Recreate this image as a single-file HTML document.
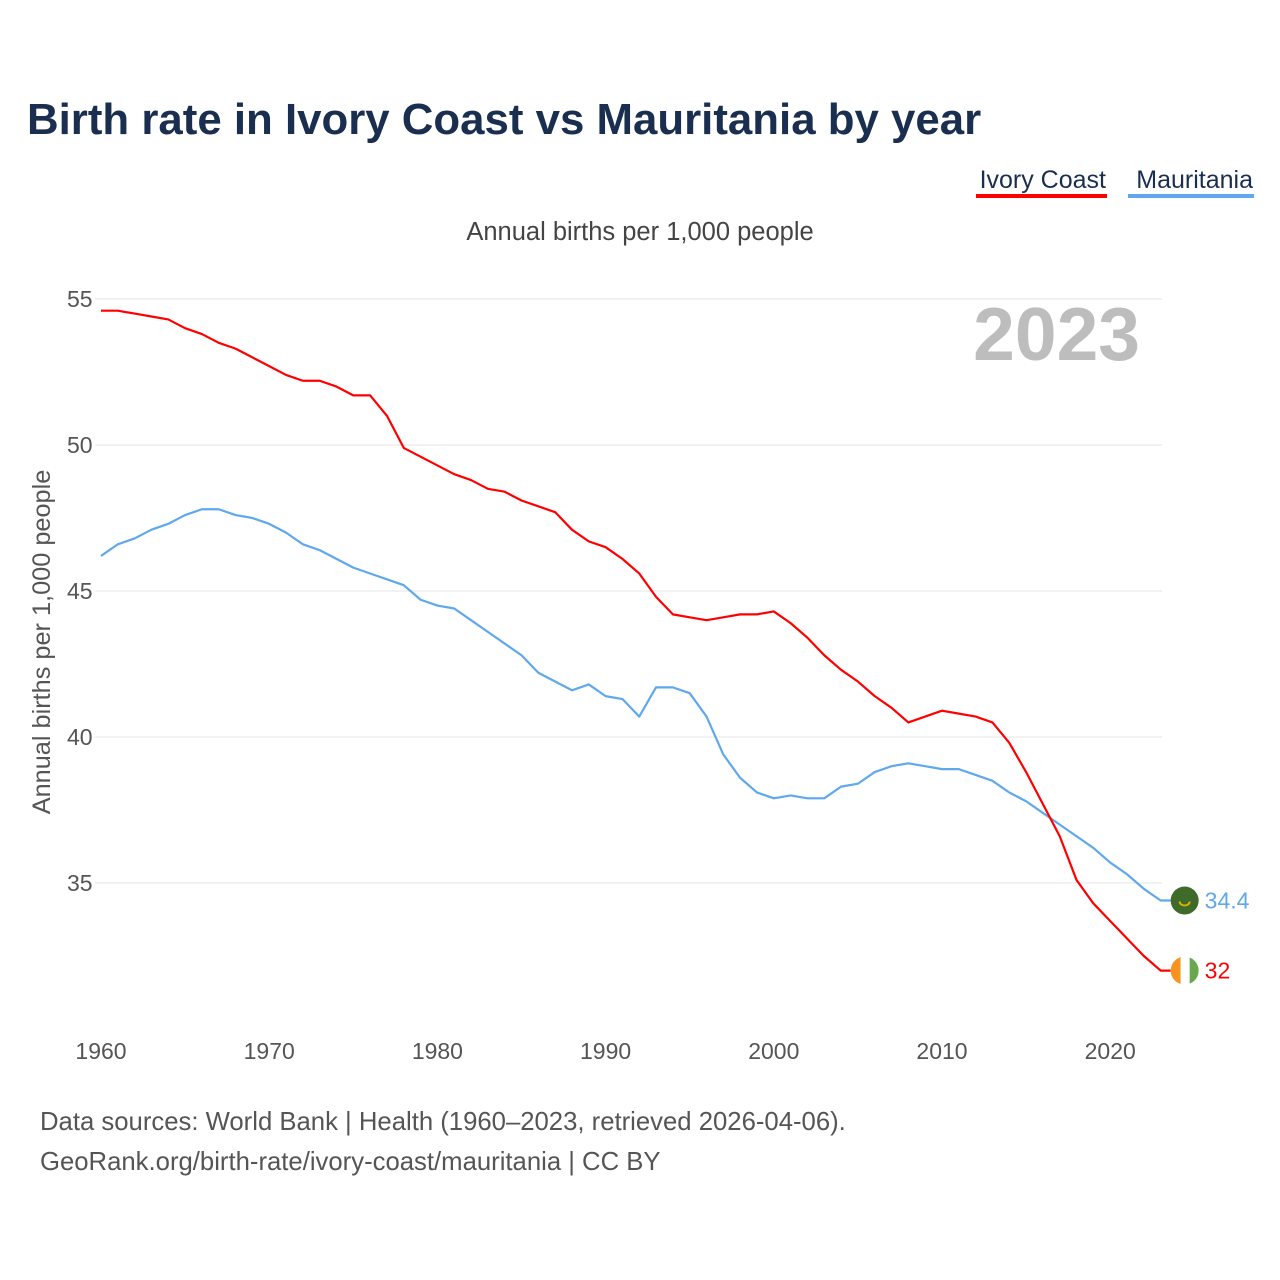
<!DOCTYPE html>
<html><head><meta charset="utf-8"><style>
body{margin:0;background:#fff;font-family:"Liberation Sans",sans-serif;}
#wrap{position:relative;width:1280px;height:1280px;overflow:hidden}
</style></head><body>
<div id="wrap">
<svg id="chart" width="1280" height="1280">
<text x="27" y="134" font-size="43.8" font-weight="bold" fill="#1a2e4f">Birth rate in Ivory Coast vs Mauritania by year</text>
<g>
<text x="1106" y="188" font-size="25" fill="#1a2e4f" text-anchor="end">Ivory Coast</text>
<rect x="976" y="194" width="131" height="4" fill="#ff0000"/>
<text x="1253" y="188" font-size="25" fill="#1a2e4f" text-anchor="end">Mauritania</text>
<rect x="1128" y="194" width="126" height="4" fill="#5fa8ee"/>
</g>
<text x="640" y="240" font-size="25.5" fill="#444" text-anchor="middle">Annual births per 1,000 people</text>
<text x="1140" y="360" font-size="75" font-weight="bold" fill="#bdbdbd" text-anchor="end">2023</text>
<text transform="translate(50,642) rotate(-90)" font-size="25.3" fill="#555" text-anchor="middle">Annual births per 1,000 people</text>
<g id="grid"></g><g id="series"></g>
<text x="40" y="1130" font-size="25.7" fill="#555">Data sources: World Bank | Health (1960–2023, retrieved 2026-04-06).</text>
<text x="40" y="1170" font-size="25.7" fill="#555">GeoRank.org/birth-rate/ivory-coast/mauritania | CC BY</text>
</svg></div>
<script>
const startYear = 1960;
const xTicks = [1960,1970,1980,1990,2000,2010,2020];
const yTicks = [35,40,45,50,55];
const ivoryCoast = [54.6,54.6,54.5,54.4,54.3,54.0,53.8,53.5,53.3,53.0,52.7,52.4,52.2,52.2,52.0,51.7,51.7,51.0,49.9,49.6,49.3,49.0,48.8,48.5,48.4,48.1,47.9,47.7,47.1,46.7,46.5,46.1,45.6,44.8,44.2,44.1,44.0,44.1,44.2,44.2,44.3,43.9,43.4,42.8,42.3,41.9,41.4,41.0,40.5,40.7,40.9,40.8,40.7,40.5,39.8,38.8,37.7,36.6,35.1,34.3,33.7,33.1,32.5,32.0];
const mauritania = [46.2,46.6,46.8,47.1,47.3,47.6,47.8,47.8,47.6,47.5,47.3,47.0,46.6,46.4,46.1,45.8,45.6,45.4,45.2,44.7,44.5,44.4,44.0,43.6,43.2,42.8,42.2,41.9,41.6,41.8,41.4,41.3,40.7,41.7,41.7,41.5,40.7,39.4,38.6,38.1,37.9,38.0,37.9,37.9,38.3,38.4,38.8,39.0,39.1,39.0,38.9,38.9,38.7,38.5,38.1,37.8,37.4,37.0,36.6,36.2,35.7,35.3,34.8,34.4];
const NS="http://www.w3.org/2000/svg";
const xS=y=>101+(y-1960)*16.82;
const yS=v=>299+(55-v)*29.2;
const grid=document.getElementById('grid'), ser=document.getElementById('series');
function mk(t,a,p){const e=document.createElementNS(NS,t);for(const k in a)e.setAttribute(k,a[k]);p.appendChild(e);return e;}
yTicks.forEach(v=>{
 const l=mk('line',{x1:95,x2:1162,y1:yS(v),y2:yS(v),stroke:'#e6e6e6','stroke-width':1},grid);
 
 
 const t=mk('text',{x:67,y:yS(v)+8,'font-size':23,fill:'#555','text-anchor':'start'},grid);
 t.textContent=v;
 
 
});
xTicks.forEach(y=>{
 const t=mk('text',{x:xS(y),y:1059,'font-size':23,fill:'#555','text-anchor':'middle'},grid);
 t.textContent=y;
 
 
});
const lastYear=startYear+ivoryCoast.length-1;
const ex=xS(lastYear)+24;
function line(d,c,n){
 const pts=d.map((v,i)=>xS(startYear+i)+','+yS(v));
 pts.push((ex-14)+','+yS(d[d.length-1]));
 const p=mk('polyline',{points:pts.join(' '),fill:'none',stroke:c,'stroke-width':2.2,'stroke-linejoin':'round'},ser);
 
 
}
line(mauritania,'#5fa8ee','mauritania');
line(ivoryCoast,'#ff0000','ivory-coast');
const my=yS(mauritania[mauritania.length-1]);
const mc=mk('circle',{cx:ex,cy:my,r:14,fill:'#3f6b2a'},ser);


mk('path',{d:`M${ex-5} ${my+1} a5 4 0 0 0 10 0`,fill:'none',stroke:'#e0b000','stroke-width':2},ser);
const mt=mk('text',{x:ex+20,y:my+8,'font-size':23,fill:'#5fa8ee'},ser);
mt.textContent=mauritania[mauritania.length-1];


const iy=yS(ivoryCoast[ivoryCoast.length-1]);
const cp=mk('clipPath',{id:'cc'},ser);mk('circle',{cx:ex,cy:iy,r:14},cp);
const g=mk('g',{'clip-path':'url(#cc)'},ser);


mk('rect',{x:ex-14,y:iy-14,width:10,height:28,fill:'#f7931e'},g);
mk('rect',{x:ex-4,y:iy-14,width:9,height:28,fill:'#fff'},g);
mk('rect',{x:ex+5,y:iy-14,width:10,height:28,fill:'#6aa84f'},g);
const it=mk('text',{x:ex+20,y:iy+8,'font-size':23,fill:'#ff0000'},ser);
it.textContent=ivoryCoast[ivoryCoast.length-1];


</script>
</body></html>
